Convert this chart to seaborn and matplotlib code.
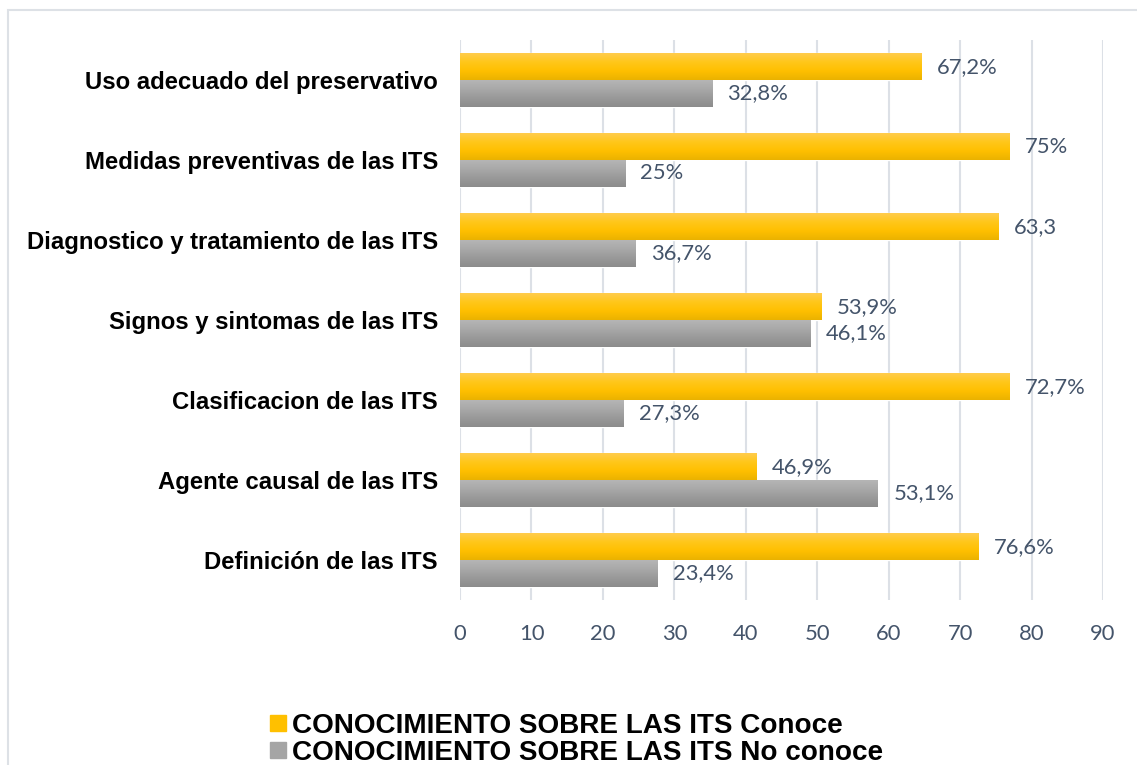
import matplotlib
matplotlib.use("Agg")
import matplotlib.pyplot as plt
from matplotlib.patches import Rectangle
from matplotlib.lines import Line2D
from matplotlib.font_manager import FontProperties
import numpy as np
import pandas as pd
import seaborn as sns

# datos
categorias = ["Uso adecuado del preservativo", "Medidas preventivas de las ITS",
              "Diagnostico y tratamiento de las ITS", "Signos y sintomas de las ITS",
              "Clasificacion de las ITS", "Agente causal de las ITS", "Definición de las ITS"]
series = ["CONOCIMIENTO SOBRE LAS ITS Conoce", "CONOCIMIENTO SOBRE LAS ITS No conoce"]
conoce = [64.6, 76.9, 75.4, 50.6, 76.9, 41.5, 72.6]
no_conoce = [35.3, 23.1, 24.6, 49.0, 22.9, 58.5, 27.7]
etiquetas_conoce = ["67,2%", "75%", "63,3", "53,9%", "72,7%", "46,9%", "76,6%"]
etiquetas_no_conoce = ["32,8%", "25%", "36,7%", "46,1%", "27,3%", "53,1%", "23,4%"]
ticks_x = [0, 10, 20, 30, 40, 50, 60, 70, 80, 90]

df = pd.DataFrame({
    "categoria": categorias * 2,
    "serie": [series[0]] * len(categorias) + [series[1]] * len(categorias),
    "valor": conoce + no_conoce,
})

sns.set_theme(style="white")
plt.rcParams['font.family'] = ['Liberation Sans', 'DejaVu Sans']

gris_txt = '#44546A'
oro = '#FFC000'
gris = '#A5A5A5'

fig = plt.figure(figsize=(11.37, 7.65), dpi=100)
ax = fig.add_axes([460/1137, 1-600/765, 643/1137, 560/765])

sns.barplot(data=df, y="categoria", x="valor", hue="serie", order=categorias,
            hue_order=series, palette=[oro, gris], orient="h", width=0.67,
            ax=ax, legend=False, saturation=1)

# degradado en las barras
grad_oro = np.array([[1.0, 0.80, 0.30], [1.0, 0.78, 0.10], [1.0, 0.75, 0.0], [0.92, 0.70, 0.0]])
grad_gris = np.array([[0.71, 0.71, 0.71], [0.66, 0.66, 0.66], [0.60, 0.60, 0.60], [0.55, 0.55, 0.55]])
t = np.linspace(0, 1, 50)
for cont, grad in zip(ax.containers, [grad_oro, grad_gris]):
    rgb = np.stack([np.interp(t, np.linspace(0, 1, len(grad)), grad[:, k]) for k in range(3)], axis=-1)
    for p in cont:
        x0, y0 = p.get_x(), p.get_y()
        w, h = p.get_width(), p.get_height()
        im = ax.imshow(rgb[:, None, :], extent=[x0, x0 + w, y0 + h, y0], aspect='auto',
                       zorder=p.get_zorder() + 0.1)
        im.set_clip_path(p)

ax.bar_label(ax.containers[0], labels=etiquetas_conoce, padding=11, color=gris_txt,
             fontsize=15.8, family='Lato')
ax.bar_label(ax.containers[1], labels=etiquetas_no_conoce, padding=11, color=gris_txt,
             fontsize=15.8, family='Lato')

ax.set_xlim(0, 90)
ax.set_ylim(len(categorias) - 0.5, -0.5)
ax.set_xticks(ticks_x)
ax.set_xticklabels([str(v) for v in ticks_x], family='Lato', fontsize=15.8, color=gris_txt)
ax.tick_params(axis='x', length=0, pad=17)
ax.tick_params(axis='y', length=0, pad=16)
for lbl in ax.get_yticklabels():
    lbl.set_fontweight('bold')
    lbl.set_fontsize(17.2)
    lbl.set_color('black')
ax.set_xlabel("")
ax.set_ylabel("")
ax.grid(axis='x', color='#DCE0E6', linewidth=1.5)
ax.set_axisbelow(True)
for s in ax.spines.values():
    s.set_visible(False)

# marco del grafico
fig.patches.append(Rectangle((8/1137, -0.2), 1.2, 1.2 - 10/765, transform=fig.transFigure,
                             fill=False, edgecolor='#DDE1E6', linewidth=1.5))

handles = [Line2D([], [], marker='s', linestyle='none', markersize=11.5, color=oro),
           Line2D([], [], marker='s', linestyle='none', markersize=11.5, color=gris)]
fuente_ley = FontProperties(family='Liberation Sans', weight='bold', size=20.1)
leg = fig.legend(handles, series, loc='upper left', bbox_to_anchor=(253/1137, 1-699/765),
                 frameon=False, handletextpad=0.1, labelspacing=0.02, handlelength=0.8,
                 borderpad=0.0, prop=fuente_ley)
for txt in leg.get_texts():
    txt.set_color('black')

fig.savefig("out.png", dpi=100)
